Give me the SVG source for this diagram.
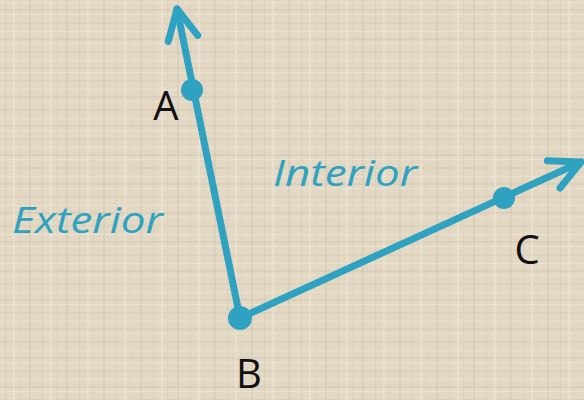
<svg xmlns="http://www.w3.org/2000/svg" width="584" height="400" viewBox="0 0 584 400">
<style>
.ray{stroke:#2ea2c0;stroke-width:7;stroke-linecap:round;fill:none}
.pt{fill:#2ea2c0}
.lbl{font-family:"Open Sans","Noto Sans",sans-serif;font-size:40px;fill:#111}
.reg{font-family:"Open Sans","Noto Sans",sans-serif;font-size:36px;fill:#2ea2c0;font-style:italic}
</style>
<defs>
<marker id="arr" markerUnits="userSpaceOnUse" markerWidth="60" markerHeight="60" refX="0" refY="0" viewBox="-40 -30 60 60" orient="auto" overflow="visible">
<path d="M-30,-15 L0,0 L-30,15" fill="none" stroke="#2ea2c0" stroke-width="7" stroke-linecap="round" stroke-linejoin="round"/>
</marker>
<pattern id="linen" patternUnits="userSpaceOnUse" width="37" height="29">
<rect width="37" height="29" fill="#e2d8c4"/>
<rect x="0" y="2" width="37" height="1" fill="#eee6d6" opacity="0.7"/>
<rect x="0" y="9" width="37" height="2" fill="#d3c8b2" opacity="0.5"/>
<rect x="0" y="14" width="37" height="1" fill="#f0e9da" opacity="0.6"/>
<rect x="0" y="22" width="37" height="2" fill="#d6cbb5" opacity="0.45"/>
<rect x="5" y="0" width="1" height="29" fill="#d2c6ae" opacity="0.5"/>
<rect x="13" y="0" width="2" height="29" fill="#eee6d6" opacity="0.6"/>
<rect x="19" y="0" width="1" height="29" fill="#d6cbb5" opacity="0.4"/>
<rect x="29" y="0" width="2" height="29" fill="#d0c4ab" opacity="0.45"/>
</pattern>
</defs>
<rect width="584" height="400" fill="url(#linen)"/>
<g id="connectors">
<line class="ray" x1="240" y1="318" x2="177" y2="9" marker-end="url(#arr)"/>
<line class="ray" x1="240" y1="318" x2="581" y2="162" marker-end="url(#arr)"/>
</g>
<g id="A"><circle class="pt" cx="192" cy="90" r="11"/><text class="lbl" x="166" y="120" text-anchor="middle">A</text></g>
<g id="B"><circle class="pt" cx="240" cy="318" r="12"/><text class="lbl" x="249" y="388" text-anchor="middle">B</text></g>
<g id="C"><circle class="pt" cx="504" cy="198" r="11"/><text class="lbl" x="527" y="264" text-anchor="middle">C</text></g>
<g id="interior"><text class="reg" x="273" y="186" textLength="144" lengthAdjust="spacingAndGlyphs">Interior</text></g>
<g id="exterior"><text class="reg" x="12" y="233" textLength="151" lengthAdjust="spacingAndGlyphs">Exterior</text></g>
</svg>
